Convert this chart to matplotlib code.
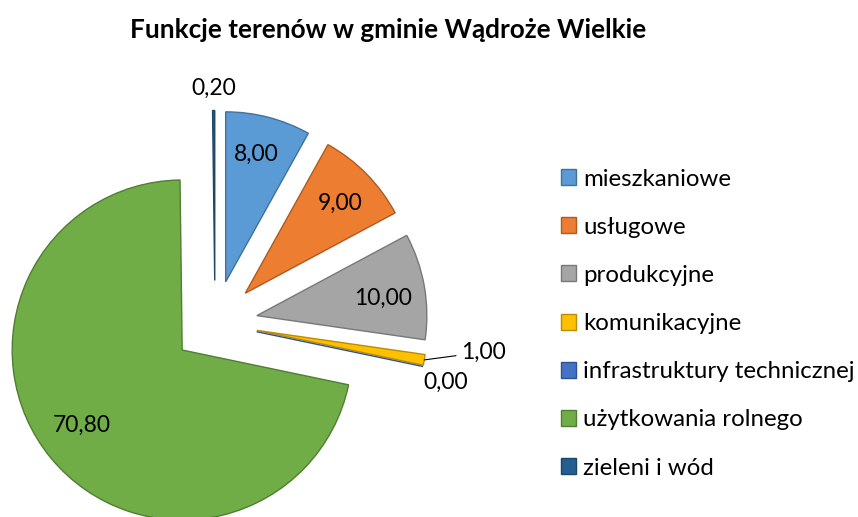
import numpy as np
import matplotlib
matplotlib.use('Agg')
import matplotlib.pyplot as plt

plt.rcParams['font.family'] = ['Lato', 'DejaVu Sans']

categories = ['mieszkaniowe', 'usługowe', 'produkcyjne', 'komunikacyjne',
              'infrastruktury technicznej', 'użytkowania rolnego', 'zieleni i wód']
values = [8.00, 9.00, 10.00, 1.00, 0.00, 70.80, 0.20]
colors = ['#5B9BD5', '#ED7D31', '#A5A5A5', '#FFC000', '#4472C4', '#70AD47', '#255E91']
edges = ['#41719C', '#AE5A21', '#787878', '#BC8C00', '#2F528F', '#507E32', '#1B4569']

# label placement: (distance from slice centre, angle shift in degrees)
label_pos = [(0.77, 1), (0.77, -1), (0.75, -2), (1.35, 4.6), (1.15, -3.2), (0.74, -2.5), (1.13, 0)]

W, H = 858, 517
cx, cy, R = 215, 323, 170   # pie centre and radius in pixels

fig = plt.figure(figsize=(W / 100, H / 100), dpi=100)
ax = fig.add_axes([0, 0, 1, 1])

wedges, _ = ax.pie(values, explode=[0.25] * len(values), startangle=90,
                   counterclock=False, colors=colors,
                   wedgeprops=dict(linewidth=1.0))
for w, ec in zip(wedges, edges):
    w.set_edgecolor(ec)

ax.set_xlim(-cx / R, (W - cx) / R)
ax.set_ylim(-(H - cy) / R, cy / R)
ax.set_aspect('auto')
ax.axis('off')

for i, (w, v) in enumerate(zip(wedges, values)):
    d, shift = label_pos[i]
    mid = np.deg2rad((w.theta1 + w.theta2) / 2 + shift)
    x0, y0 = w.center
    tx, ty = x0 + d * np.cos(mid), y0 + d * np.sin(mid)
    txt = f'{v:.2f}'.replace('.', ',')
    if i == 3:
        emid = np.deg2rad((w.theta1 + w.theta2) / 2)
        ex, ey = x0 + np.cos(emid), y0 + np.sin(emid)
        ax.annotate(txt, xy=(ex, ey), xytext=(tx - 0.14, ty), ha='left', va='center',
                    fontsize=16.5, arrowprops=dict(arrowstyle='-', color='black', lw=0.8,
                                                    shrinkA=2, shrinkB=0))
    else:
        ax.text(tx, ty, txt, ha='center', va='center', fontsize=16.5)

fig.text(388 / W, 1 - 30 / H, 'Funkcje terenów w gminie Wądroże Wielkie',
         ha='center', va='center', fontsize=18.8, fontweight='bold')

fig.legend(wedges, categories, loc='upper left', bbox_to_anchor=(551 / W, 1 - 159 / H),
           frameon=False, fontsize=17.3, handlelength=0.65, handleheight=0.65,
           handletextpad=0.3, labelspacing=1.13, borderaxespad=0)

fig.savefig('out.png', dpi=100)
